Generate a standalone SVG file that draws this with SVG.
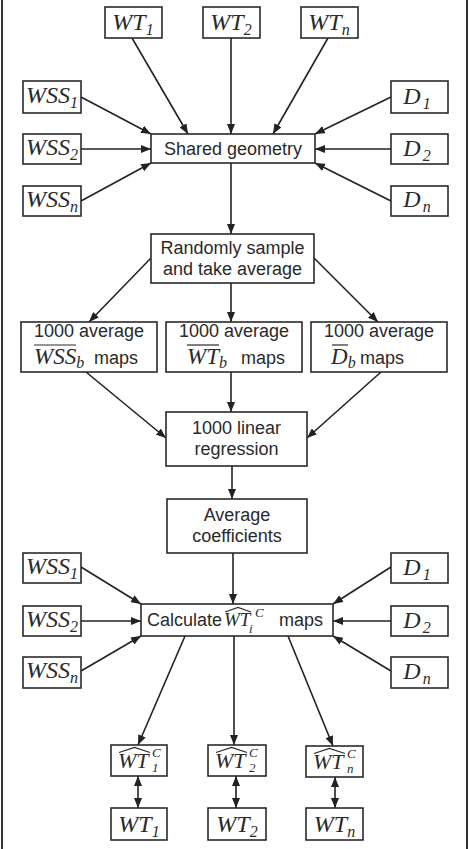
<svg xmlns="http://www.w3.org/2000/svg" width="469" height="849" viewBox="0 0 469 849">
<defs>
<style>
.box{fill:#fff;stroke:#2a2a2a;stroke-width:1.6}
.s{font-family:"Liberation Sans",Arial,sans-serif;font-size:18px;fill:#2a2a2a}
.m{font-family:"Liberation Serif","Times New Roman",serif;font-style:italic;font-size:24px;fill:#2a2a2a}
.mi{font-family:"Liberation Serif","Times New Roman",serif;font-style:italic;fill:#2a2a2a}
.sub{font-size:16px}
.c{stroke:#222;stroke-width:1.6;fill:none;marker-end:url(#ah)}
.d{stroke:#222;stroke-width:1.6;fill:none;marker-end:url(#ah);marker-start:url(#ah)}
.deco{stroke:#2a2a2a;stroke-width:1.2;fill:none}
.frame{stroke:#333;stroke-width:2}
</style>
<marker id="ah" markerUnits="userSpaceOnUse" markerWidth="10" markerHeight="8" refX="10" refY="4" orient="auto-start-reverse">
<path d="M0,0 L10,4 L0,8 z" fill="#222"/>
</marker>
</defs>
<rect width="469" height="849" fill="#fff"/>
<line class="frame" x1="2" y1="0" x2="2" y2="849"/>
<line class="frame" x1="467" y1="0" x2="467" y2="849"/>

<g id="connectors">
<line class="c" x1="132" y1="38" x2="188" y2="134"/>
<line class="c" x1="231" y1="38" x2="231" y2="134"/>
<line class="c" x1="328" y1="38" x2="273" y2="134"/>
<line class="c" x1="81" y1="97" x2="151" y2="134"/>
<line class="c" x1="81" y1="149" x2="151" y2="149"/>
<line class="c" x1="81" y1="201" x2="151" y2="163"/>
<line class="c" x1="391" y1="97" x2="315" y2="134"/>
<line class="c" x1="391" y1="149" x2="315" y2="149"/>
<line class="c" x1="391" y1="201" x2="315" y2="163"/>
<line class="c" x1="231" y1="163" x2="231" y2="234"/>
<line class="c" x1="151" y1="258" x2="89" y2="322"/>
<line class="c" x1="231" y1="283" x2="231" y2="322"/>
<line class="c" x1="314" y1="258" x2="378" y2="322"/>
<line class="c" x1="86" y1="372" x2="166" y2="438"/>
<line class="c" x1="231" y1="372" x2="231" y2="412"/>
<line class="c" x1="381" y1="372" x2="307" y2="438"/>
<line class="c" x1="232" y1="466" x2="232" y2="499"/>
<line class="c" x1="233" y1="553" x2="233" y2="604"/>
<line class="c" x1="81" y1="567" x2="141" y2="604"/>
<line class="c" x1="81" y1="621" x2="141" y2="621"/>
<line class="c" x1="81" y1="671" x2="141" y2="636"/>
<line class="c" x1="391" y1="567" x2="333" y2="604"/>
<line class="c" x1="391" y1="621" x2="333" y2="621"/>
<line class="c" x1="391" y1="671" x2="333" y2="636"/>
<line class="c" x1="185" y1="636" x2="138" y2="745"/>
<line class="c" x1="234" y1="636" x2="234" y2="745"/>
<line class="c" x1="288" y1="636" x2="333" y2="746"/>
<line class="d" x1="138" y1="776" x2="138" y2="808"/>
<line class="d" x1="236" y1="776" x2="236" y2="808"/>
<line class="d" x1="335" y1="777" x2="335" y2="808"/>
</g>

<g id="wt1-top"><rect class="box" x="105" y="7" width="57" height="31"/><text class="m" x="133" y="30" text-anchor="middle">WT<tspan class="sub" dy="5">1</tspan></text></g>
<g id="wt2-top"><rect class="box" x="203" y="7" width="57" height="31"/><text class="m" x="231" y="30" text-anchor="middle">WT<tspan class="sub" dy="5">2</tspan></text></g>
<g id="wtn-top"><rect class="box" x="301" y="7" width="57" height="31"/><text class="m" x="329" y="30" text-anchor="middle">WT<tspan class="sub" dy="5">n</tspan></text></g>

<g id="wss1-top"><rect class="box" x="23" y="81" width="58" height="32"/><text class="m" x="52" y="103" text-anchor="middle">WSS<tspan class="sub" dy="5">1</tspan></text></g>
<g id="wss2-top"><rect class="box" x="23" y="134" width="58" height="30"/><text class="m" x="52" y="155" text-anchor="middle">WSS<tspan class="sub" dy="5">2</tspan></text></g>
<g id="wssn-top"><rect class="box" x="23" y="186" width="58" height="30"/><text class="m" x="52" y="207" text-anchor="middle">WSS<tspan class="sub" dy="5">n</tspan></text></g>

<g id="d1-top"><rect class="box" x="391" y="81" width="57" height="32"/><text class="m" x="417" y="104" text-anchor="middle">D<tspan class="sub" dy="5" dx="2">1</tspan></text></g>
<g id="d2-top"><rect class="box" x="391" y="134" width="57" height="30"/><text class="m" x="417" y="156" text-anchor="middle">D<tspan class="sub" dy="5" dx="2">2</tspan></text></g>
<g id="dn-top"><rect class="box" x="391" y="186" width="57" height="30"/><text class="m" x="417" y="207" text-anchor="middle">D<tspan class="sub" dy="5" dx="2">n</tspan></text></g>

<g id="shared"><rect class="box" x="151" y="134" width="164" height="29"/><text class="s" x="233" y="155" text-anchor="middle">Shared geometry</text></g>

<g id="random"><rect class="box" x="151" y="234" width="163" height="49"/><text class="s" x="232.5" y="254" text-anchor="middle">Randomly sample</text><text class="s" x="232.5" y="275" text-anchor="middle">and take average</text></g>

<g id="avg-wss"><rect class="box" x="21" y="322" width="136" height="50"/><text class="s" x="89" y="337" text-anchor="middle">1000 average</text>
<line class="deco" x1="34" y1="345" x2="76" y2="345"/>
<text y="364"><tspan class="mi" x="34" font-size="23">WSS</tspan><tspan class="mi" font-size="16" dy="4">b</tspan><tspan class="s" x="94" y="364">maps</tspan></text></g>

<g id="avg-wt"><rect class="box" x="166" y="322" width="136" height="50"/><text class="s" x="234" y="337" text-anchor="middle">1000 average</text>
<line class="deco" x1="187" y1="345" x2="219" y2="345"/>
<text y="364"><tspan class="mi" x="187" font-size="23">WT</tspan><tspan class="mi" font-size="16" dy="4">b</tspan><tspan class="s" x="241" y="364">maps</tspan></text></g>

<g id="avg-d"><rect class="box" x="311" y="322" width="136" height="50"/><text class="s" x="379" y="337" text-anchor="middle">1000 average</text>
<line class="deco" x1="332" y1="345" x2="348" y2="345"/>
<text y="364"><tspan class="mi" x="331" font-size="23">D</tspan><tspan class="mi" font-size="16" dy="4">b</tspan><tspan class="s" x="360" y="364">maps</tspan></text></g>

<g id="linreg"><rect class="box" x="166" y="412" width="141" height="54"/><text class="s" x="236.5" y="434" text-anchor="middle">1000 linear</text><text class="s" x="236.5" y="455" text-anchor="middle">regression</text></g>

<g id="avgcoef"><rect class="box" x="167" y="499" width="140" height="54"/><text class="s" x="237" y="521" text-anchor="middle">Average</text><text class="s" x="237" y="542" text-anchor="middle">coefficients</text></g>

<g id="wss1-bot"><rect class="box" x="23" y="553" width="58" height="30"/><text class="m" x="52" y="574" text-anchor="middle">WSS<tspan class="sub" dy="5">1</tspan></text></g>
<g id="wss2-bot"><rect class="box" x="23" y="606" width="58" height="30"/><text class="m" x="52" y="627" text-anchor="middle">WSS<tspan class="sub" dy="5">2</tspan></text></g>
<g id="wssn-bot"><rect class="box" x="23" y="657" width="58" height="31"/><text class="m" x="52" y="678" text-anchor="middle">WSS<tspan class="sub" dy="5">n</tspan></text></g>

<g id="d1-bot"><rect class="box" x="391" y="553" width="57" height="30"/><text class="m" x="417" y="575" text-anchor="middle">D<tspan class="sub" dy="5" dx="2">1</tspan></text></g>
<g id="d2-bot"><rect class="box" x="391" y="606" width="57" height="30"/><text class="m" x="417" y="628" text-anchor="middle">D<tspan class="sub" dy="5" dx="2">2</tspan></text></g>
<g id="dn-bot"><rect class="box" x="391" y="657" width="57" height="31"/><text class="m" x="417" y="679" text-anchor="middle">D<tspan class="sub" dy="5" dx="2">n</tspan></text></g>

<g id="calc"><rect class="box" x="141" y="604" width="192" height="32"/>
<path class="deco" d="M225,612 L238,607.5 L251,612"/>
<text y="626"><tspan class="s" x="147" font-size="17">Calculate</tspan><tspan class="mi" x="224" font-size="19">WT</tspan><tspan class="mi" x="255" y="617" font-size="13">C</tspan><tspan class="mi" x="249" y="632.5" font-size="13">i</tspan><tspan class="s" x="279" y="626" font-size="17.5">maps</tspan></text></g>

<g id="wtc1"><rect class="box" x="111" y="745" width="56" height="31"/>
<path class="deco" d="M119,752.5 L134.5,747.5 L150,752.5"/>
<text y="768"><tspan class="mi" x="118" font-size="22">WT</tspan><tspan class="mi" x="152" y="757" font-size="13">C</tspan><tspan class="mi" x="152" y="772" font-size="13">1</tspan></text></g>
<g id="wtc2"><rect class="box" x="208" y="745" width="58" height="31"/>
<path class="deco" d="M216,752.5 L231.5,747.5 L247,752.5"/>
<text y="768"><tspan class="mi" x="215" font-size="22">WT</tspan><tspan class="mi" x="249" y="757" font-size="13">C</tspan><tspan class="mi" x="249" y="772" font-size="13">2</tspan></text></g>
<g id="wtcn"><rect class="box" x="306" y="746" width="57" height="31"/>
<path class="deco" d="M314,753.5 L329.5,748.5 L345,753.5"/>
<text y="769"><tspan class="mi" x="313" font-size="22">WT</tspan><tspan class="mi" x="347" y="758" font-size="13">C</tspan><tspan class="mi" x="347" y="773" font-size="13">n</tspan></text></g>

<g id="wt1-bot"><rect class="box" x="111" y="808" width="56" height="32"/><text class="m" x="139" y="832" text-anchor="middle">WT<tspan class="sub" dy="5">1</tspan></text></g>
<g id="wt2-bot"><rect class="box" x="208" y="808" width="58" height="32"/><text class="m" x="237" y="832" text-anchor="middle">WT<tspan class="sub" dy="5">2</tspan></text></g>
<g id="wtn-bot"><rect class="box" x="306" y="808" width="57" height="32"/><text class="m" x="334.5" y="832" text-anchor="middle">WT<tspan class="sub" dy="5">n</tspan></text></g>
</svg>
